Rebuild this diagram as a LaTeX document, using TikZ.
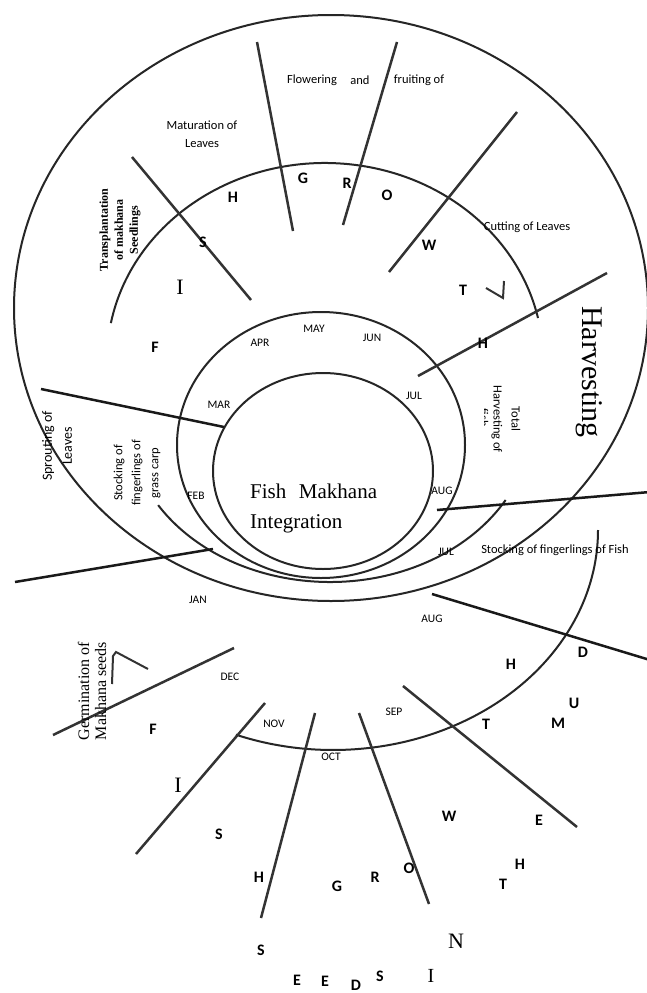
\documentclass[tikz,border=0pt]{standalone}
\usepackage{fontspec}
\usetikzlibrary{calc}
\setmainfont{Liberation Serif}
\newfontfamily\calib{Carlito}
\begin{document}
\begin{tikzpicture}[x=1pt,y=-1pt,
  curve/.style={line width=2pt, draw=black!85},
  bar/.style={line width=2.5pt, draw=black!80},
  mon/.style={font=\calib\fontsize{11.5}{13}\selectfont, inner sep=0pt},
  lab/.style={font=\calib\fontsize{12.5}{15}\selectfont, align=center, inner sep=0pt},
  ltr/.style={font=\calib\bfseries\fontsize{16}{18}\selectfont, inner sep=0pt},
  sltr/.style={font=\fontsize{22}{24}\selectfont, inner sep=0pt}]
\useasboundingbox (0,0) rectangle (646,993);
\fill[white] (0,0) rectangle (646,993);

% ---- circles and arcs ----
\draw[curve] (331,308) ellipse [x radius=317, y radius=293];
\draw[curve] (321,445) ellipse [x radius=144, y radius=133];
\draw[curve] (323,471) ellipse [x radius=110, y radius=98];
% upper growth arc
\draw[curve] ($(325,360)+(190.8:218 and 197)$) arc[start angle=190.8, end angle=347.7, x radius=218, y radius=197];
% fish arc
\draw[curve] ($(330,420)+(148.3:202 and 162)$) arc[start angle=148.3, end angle=29.6, x radius=202, y radius=162];
% lower growth arc
\draw[curve] ($(333,530)+(0:265 and 220)$) arc[start angle=0, end angle=111.5, x radius=265, y radius=220];

% ---- straight bars ----
\draw[bar] (132,157) -- (251,300);
\draw[bar] (257,42) -- (293,231);
\draw[bar] (397,42) -- (343,225);
\draw[bar] (517,112) -- (389,272);
\draw[bar] (607,273) -- (418,376);
\draw[bar, draw=black!90] (41,389) -- (224,427);
\draw[bar, draw=black!90] (15,582) -- (213,549);
\draw[bar, draw=black!90] (437,510) -- (650,492);
\draw[bar, draw=black!90] (432,594) -- (650,660);
\draw[bar] (403,686) -- (577,827);
\draw[bar] (234,648) -- (53,735);
\draw[bar] (265,703) -- (136,854);
\draw[bar] (315,713) -- (261,918);
\draw[bar] (359,713) -- (429,904);
\draw[bar, line width=2pt] (112,684) -- (113,656) -- (116,652) -- (148,669);
\draw[bar, line width=2pt] (486,288) -- (503,298) -- (504,281);

% ---- centre ----
\node[anchor=west, align=left, font=\fontsize{21}{30}\selectfont, inner sep=0pt] (centre) at (250,508) {Fish\hspace{0.6em}Makhana\\Integration};

% ---- months ----
\node[mon] (apr) at (260,343) {APR};
\node[mon] (may) at (314,329) {MAY};
\node[mon] (jun) at (372,338) {JUN};
\node[mon] (mar) at (219,405) {MAR};
\node[mon] (jul1) at (414,396) {JUL};
\node[mon] (feb) at (196,496) {FEB};
\node[mon] (aug1) at (442,491) {AUG};
\node[mon] (jul2) at (446,552) {JUL};
\node[mon] (jan) at (198,600) {JAN};
\node[mon] (aug2) at (432,619) {AUG};
\node[mon] (dec) at (230,677) {DEC};
\node[mon] (nov) at (274,724) {NOV};
\node[mon] (oct) at (331,757) {OCT};
\node[mon] (sep) at (394,712) {SEP};

% ---- activity labels ----
\node[lab] (flw) at (312,80) {Flowering};
\node[lab] (and) at (360,80) {and};
\node[lab] (fru) at (419,80) {fruiting of};
\node[lab] (mat) at (202,134) {Maturation of\\[3pt]Leaves};
\node[lab] (cut) at (527,227) {Cutting of Leaves};
\node[lab] (stf) at (555,550) {Stocking of fingerlings of Fish};
\node[lab, font=\bfseries\fontsize{12}{15}\selectfont, rotate=90] (trn) at (120,230) {Transplantation\\of makhana\\Seedlings};
\node[lab, font=\calib\fontsize{14}{20}\selectfont, rotate=90] (spr) at (57,446) {Sprouting of\\Leaves};
\node[lab, font=\calib\fontsize{12.5}{18}\selectfont, rotate=90] (stg) at (137,473) {Stocking of\\fingerlings of\\grass carp};
\node[lab, font=\calib\fontsize{12.5}{18}\selectfont, rotate=-90] (tot) at (506,419) {Total\\Harvesting of};
\begin{scope}
  \clip (484,395) rectangle (494,445);
  \node[lab, font=\calib\fontsize{12.5}{18}\selectfont, rotate=-90] (fsh) at (484,418) {fish};
\end{scope}
\node[font=\fontsize{30}{32}\selectfont, rotate=-90, inner sep=0pt] (harv) at (589,372) {Harvesting};
\node[font=\fontsize{16}{17}\selectfont, rotate=90, align=center, inner sep=0pt] (germ) at (92,691) {Germination of\\Makhana seeds};

% ---- growth letters (upper) ----
\node[ltr] (uh1) at (233,197) {H};
\node[ltr] (ug) at (303,178) {G};
\node[ltr] (ur) at (347,183) {R};
\node[ltr] (uo) at (387,195) {O};
\node[ltr] (uw) at (429,245) {W};
\node[ltr] (ut) at (463,290) {T};
\node[ltr] (uh2) at (483,343) {H};
\node[ltr] (us) at (203,242) {S};
\node[sltr] (ui) at (180,287) {I};
\node[ltr] (uf) at (155,347) {F};

% ---- growth letters (lower) ----
\node[ltr] (lf) at (153,729) {F};
\node[sltr] (li) at (178,785) {I};
\node[ltr] (ls1) at (219,834) {S};
\node[ltr] (lh1) at (259,877) {H};
\node[ltr] (lg) at (337,886) {G};
\node[ltr] (lr) at (375,877) {R};
\node[ltr] (lo) at (409,868) {O};
\node[ltr] (lw) at (449,816) {W};
\node[ltr] (lt1) at (503,884) {T};
\node[ltr] (lh2) at (520,864) {H};
\node[sltr] (ln) at (456,941) {N};
\node[sltr, font=\fontsize{20}{22}\selectfont] (li2) at (431,976) {I};
\node[ltr] (ls2) at (380,976) {S};
\node[ltr] (ld1) at (356,985) {D};
\node[ltr] (le1) at (325,981) {E};
\node[ltr] (le2) at (297,980) {E};
\node[ltr] (ls3) at (261,950) {S};
\node[ltr] (le3) at (539,820) {E};
\node[ltr] (lm) at (558,723) {M};
\node[ltr] (lu) at (574,703) {U};
\node[ltr] (lt2) at (486,724) {T};
\node[ltr] (lh3) at (511,664) {H};
\node[ltr] (ld2) at (583,652) {D};
\end{tikzpicture}
\end{document}
